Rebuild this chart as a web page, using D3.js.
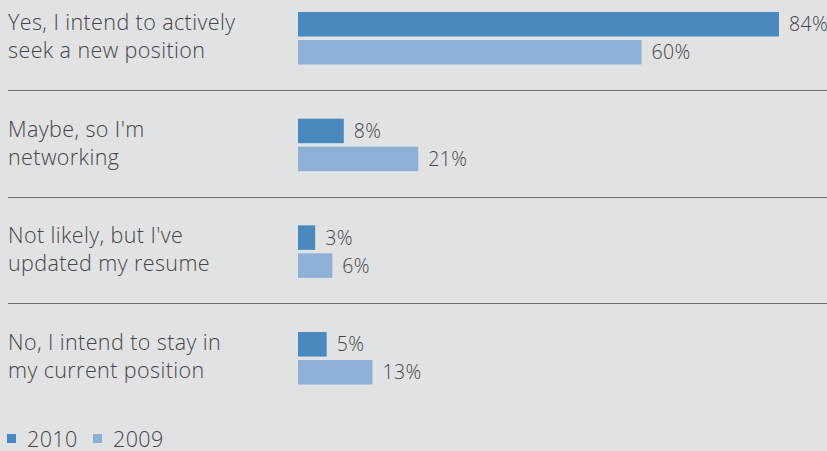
<!DOCTYPE html>
<html>
<head>
<meta charset="utf-8">
<script src="https://cdn.jsdelivr.net/npm/d3@7"></script>
<style>
  html, body { margin: 0; padding: 0; background: #e1e2e4; }
  svg { display: block; }
  text { font-family: "Open Sans", sans-serif; font-weight: 300; fill: #454545; letter-spacing: 0.4px; }
</style>
</head>
<body>
<svg id="chart"></svg>
<script>
const categories = [
  ["Yes, I intend to actively", "seek a new position"],
  ["Maybe, so I'm", "networking"],
  ["Not likely, but I've", "updated my resume"],
  ["No, I intend to stay in", "my current position"]
];
const years = ["2010", "2009"];
const values2010 = [84, 8, 3, 5];
const values2009 = [60, 21, 6, 13];

const width = 827, height = 451;
const colors = { "2010": "#4a89be", "2009": "#8eafd6" };

const svg = d3.select("#chart").attr("width", width).attr("height", height);

const x = d3.scaleLinear().domain([0, 84]).range([298, 779]);
const groupY = d3.scaleBand().domain(d3.range(categories.length)).range([0, 426.7]);
const barY = d3.scaleBand().domain(years).range([12, 64.5]).paddingInner(0.125);

const rows = categories.map((c, i) => ({
  lines: c,
  i: i,
  bars: [
    { year: "2010", v: values2010[i] },
    { year: "2009", v: values2009[i] }
  ]
}));

const g = svg.selectAll("g.group")
  .data(rows)
  .enter()
  .append("g")
  .attr("class", "group")
  .attr("transform", d => `translate(0, ${groupY(d.i)})`);

// category labels
g.append("text")
  .attr("x", 8)
  .attr("y", 30)
  .style("font-size", "21.5px")
  .selectAll("tspan")
  .data(d => d.lines)
  .enter()
  .append("tspan")
  .attr("x", 8)
  .attr("dy", (d, j) => j === 0 ? 0 : 28)
  .text(d => d);

// bars
g.selectAll("rect")
  .data(d => d.bars)
  .enter()
  .append("rect")
  .attr("x", x(0))
  .attr("y", d => barY(d.year))
  .attr("width", d => x(d.v) - x(0))
  .attr("height", barY.bandwidth())
  .attr("fill", d => colors[d.year]);

// value labels
g.selectAll("text.val")
  .data(d => d.bars)
  .enter()
  .append("text")
  .attr("class", "val")
  .attr("x", d => x(d.v) + 10)
  .attr("y", d => barY(d.year) + barY.bandwidth() / 2)
  .attr("dy", "0.36em")
  .style("font-size", "19.5px")
  .text(d => d.v + "%");

// separators
svg.selectAll("line.sep")
  .data(d3.range(categories.length - 1))
  .enter()
  .append("line")
  .attr("class", "sep")
  .attr("x1", 8)
  .attr("x2", width)
  .attr("y1", d => Math.round(groupY(d) + 90) + 0.5)
  .attr("y2", d => Math.round(groupY(d) + 90) + 0.5)
  .attr("stroke", "#6f6f6f")
  .attr("stroke-width", 1.2);

// legend
const legend = svg.append("g").attr("transform", "translate(0, 447)");
const legendX = [7, 93];
years.forEach((yr, i) => {
  legend.append("rect")
    .attr("x", legendX[i])
    .attr("y", -13)
    .attr("width", 9)
    .attr("height", 9)
    .attr("fill", colors[yr]);
  legend.append("text")
    .attr("x", legendX[i] + 20)
    .attr("y", 0)
    .style("font-size", "21.5px")
    .text(yr);
});
</script>
</body>
</html>
